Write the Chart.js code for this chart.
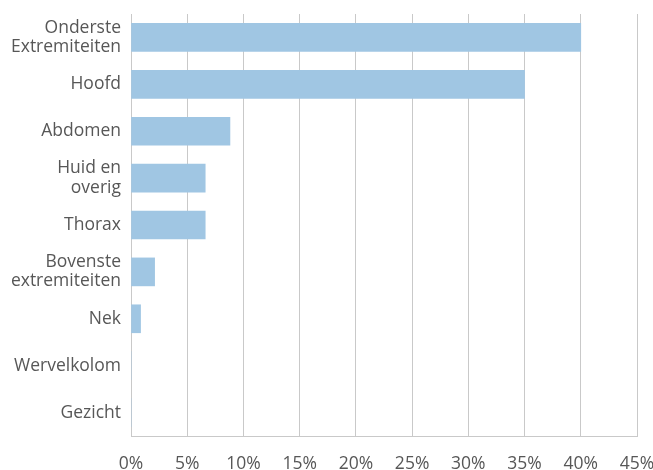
<!DOCTYPE html>
<html>
<head>
<meta charset="utf-8">
<script src="https://cdn.jsdelivr.net/npm/chart.js@4/dist/chart.umd.min.js"></script>
<style>
  html, body { margin: 0; padding: 0; background: #fff; }
  #wrap { width: 653px; height: 470px; }
</style>
</head>
<body>
<div id="wrap"><canvas id="chart"></canvas></div>
<script>
// body regions and share of injuries (percent)
const regions = [
  ['Onderste', 'Extremiteiten'],
  'Hoofd',
  'Abdomen',
  ['Huid en', 'overig'],
  'Thorax',
  ['Bovenste', 'extremiteiten'],
  'Nek',
  'Wervelkolom',
  'Gezicht'
];
const shares = [40, 35, 8.8, 6.6, 6.6, 2.1, 0.85, 0, 0];
const xMax = 45;
const xStep = 5;

const gridColor = '#c9c9c9';
const textColor = '#575757';
const labelFont = { family: 'Open Sans', size: 17.5, lineHeight: 1.1 };

new Chart(document.getElementById('chart'), {
  type: 'bar',
  data: {
    labels: regions,
    datasets: [{
      data: shares,
      backgroundColor: '#a0c6e3',
      barThickness: 28
    }]
  },
  options: {
    indexAxis: 'y',
    responsive: true,
    maintainAspectRatio: false,
    animation: false,
    layout: { padding: { top: 14, right: 16, left: 0, bottom: 0 } },
    plugins: { legend: { display: false }, tooltip: { enabled: false } },
    scales: {
      x: {
        min: 0,
        max: xMax,
        ticks: {
          stepSize: xStep,
          color: textColor,
          font: labelFont,
          padding: 18,
          maxRotation: 0,
          callback: v => v + '%'
        },
        grid: { color: gridColor, drawTicks: false },
        border: { color: gridColor },
        afterFit: s => {
          s.height = 34;
          s.paddingLeft = 0;
          s.paddingRight = 0;
        }
      },
      y: {
        ticks: {
          color: textColor,
          font: labelFont,
          padding: 10
        },
        grid: { display: false, drawTicks: false },
        border: { color: gridColor },
        afterFit: s => {
          s.width = 131;
          s.paddingTop = 0;
          s.paddingBottom = 0;
        }
      }
    }
  }
});
</script>
</body>
</html>
